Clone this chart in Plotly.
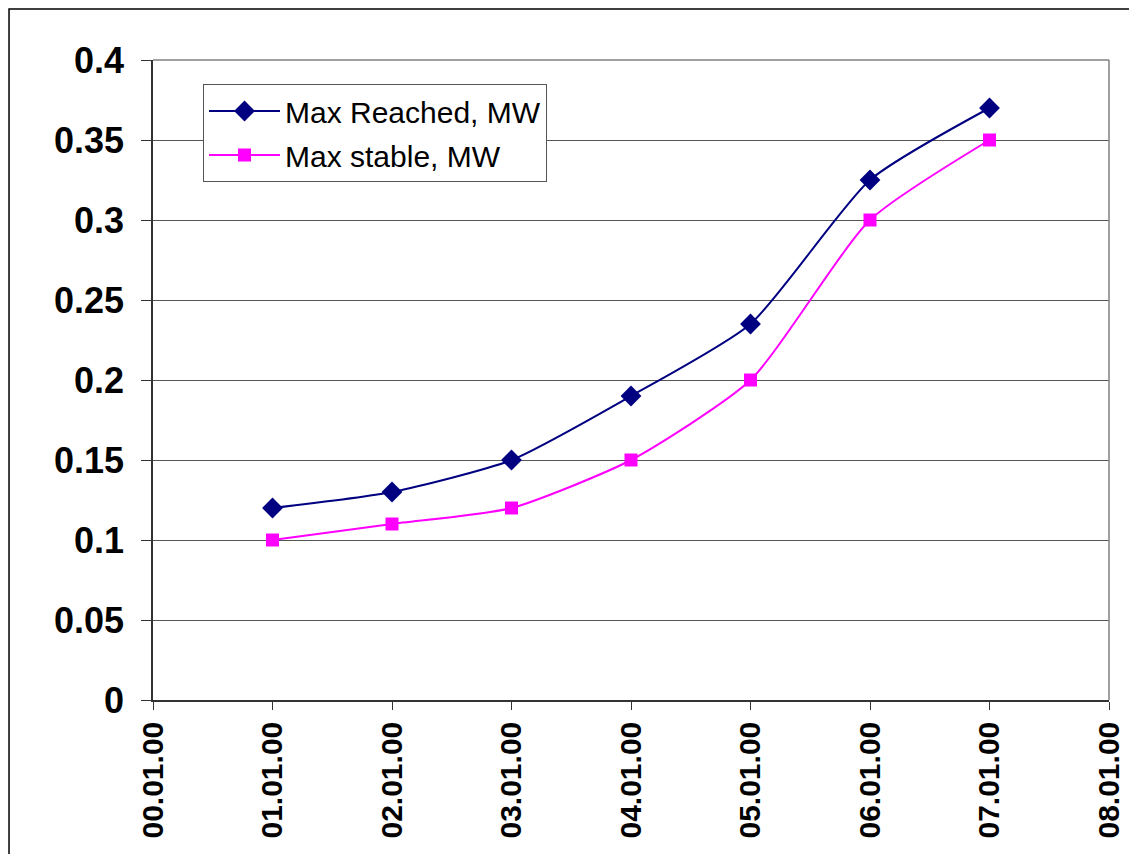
import plotly.graph_objects as go

x_pos = [1, 2, 3, 4, 5, 6, 7]
max_reached = [0.12, 0.13, 0.15, 0.19, 0.235, 0.325, 0.37]
max_stable = [0.10, 0.11, 0.12, 0.15, 0.20, 0.30, 0.35]
tick_vals = [0, 1, 2, 3, 4, 5, 6, 7, 8]
tick_text = ["00.01.00", "01.01.00", "02.01.00", "03.01.00", "04.01.00",
             "05.01.00", "06.01.00", "07.01.00", "08.01.00"]
y_ticks = [0, 0.05, 0.1, 0.15, 0.2, 0.25, 0.3, 0.35, 0.4]
y_text = ["0", "0.05", "0.1", "0.15", "0.2", "0.25", "0.3", "0.35", "0.4"]

font_family = "Liberation Sans, Arial, sans-serif"

fig = go.Figure()
fig.add_trace(go.Scatter(
    x=x_pos, y=max_reached, name="Max Reached, MW", mode="lines+markers",
    legendgroup="a",
    line=dict(color="#000080", width=2, shape="spline", smoothing=0.6),
    marker=dict(symbol="diamond", size=16, color="#000080"),
))
fig.add_trace(go.Scatter(
    x=x_pos, y=max_stable, name="Max stable, MW", mode="lines+markers",
    legendgroup="b",
    line=dict(color="#FF00FF", width=2, shape="spline", smoothing=0.6),
    marker=dict(symbol="square", size=13, color="#FF00FF"),
))

fig.update_layout(
    width=1129, height=846,
    margin=dict(l=145, r=28, t=52, b=154),
    paper_bgcolor="white", plot_bgcolor="white",
    font=dict(family=font_family, color="black"),
    showlegend=True,
    legend=dict(
        x=0.0523, y=0.9625, xanchor="left", yanchor="top",
        bgcolor="white", bordercolor="#555555", borderwidth=1,
        font=dict(size=30, family=font_family, color="black"),
        itemwidth=71, tracegroupgap=2,
    ),
    xaxis=dict(
        range=[0, 8], tickmode="array", tickvals=tick_vals, ticktext=tick_text,
        tickangle=-90, ticks="outside", ticklen=8, tickcolor="#333333",
        tickfont=dict(size=30, family=font_family, color="black", weight="bold"),
        showgrid=False, zeroline=False,
        showline=True, linecolor="#333333", linewidth=1.5, mirror=False,
    ),
    yaxis=dict(
        range=[0, 0.4], tickmode="array", tickvals=y_ticks, ticktext=y_text,
        ticks="outside", ticklen=10, tickcolor="#333333", ticklabelstandoff=10,
        tickfont=dict(size=36, family=font_family, color="black", weight="bold"),
        showgrid=True, gridcolor="#555555", gridwidth=1, zeroline=False,
        showline=True, linecolor="#333333", linewidth=1.5,
    ),
    shapes=[
        dict(type="line", xref="paper", yref="paper", x0=0, x1=1, y0=1, y1=1,
             line=dict(color="#808080", width=1.5)),
        dict(type="line", xref="paper", yref="paper", x0=1, x1=1, y0=0, y1=1,
             line=dict(color="#808080", width=1.5)),
        dict(type="rect", xref="paper", yref="paper",
             x0=-0.1506, x1=1.0220, y0=-0.30, y1=1.0797,
             line=dict(color="black", width=1.5), fillcolor="rgba(0,0,0,0)",
             layer="below"),
    ],
)

fig.write_html("out.html")
